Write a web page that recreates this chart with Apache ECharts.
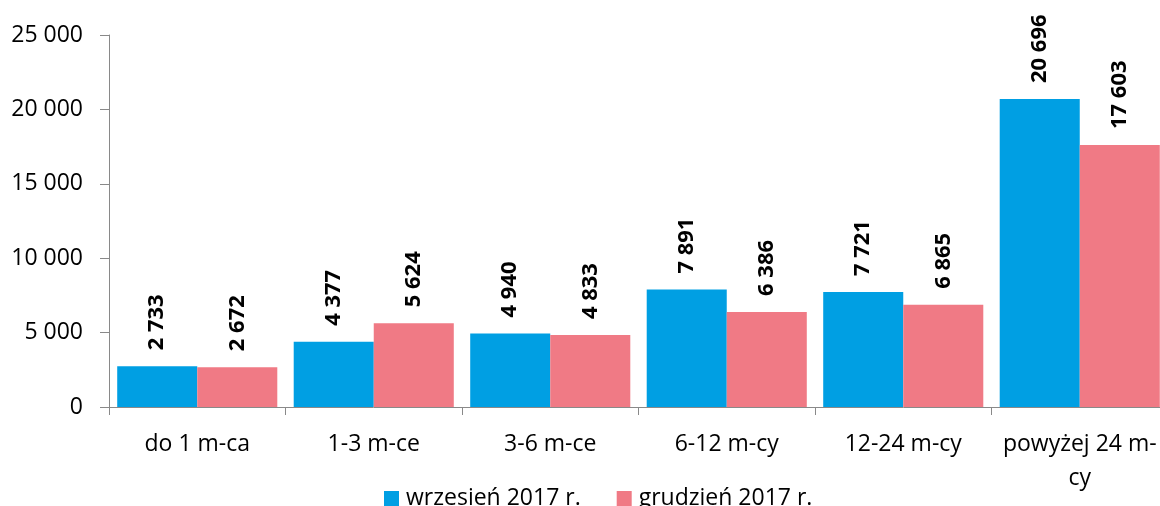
<!DOCTYPE html>
<html><head><meta charset="utf-8">
<script src="https://cdn.jsdelivr.net/npm/echarts@6/dist/echarts.min.js"></script>
<style>html,body{margin:0;padding:0;background:#fff;overflow:hidden;width:1160px;height:506px}#c{width:1170px;height:506px}</style>
</head><body><div id="c"></div>
<script>
const categories = ['do 1 m-ca', '1-3 m-ce', '3-6 m-ce', '6-12 m-cy', '12-24 m-cy', 'powyżej 24 m-\ncy'];
const seriesNames = ['wrzesień 2017 r.', 'grudzień 2017 r.'];
const wrzesien = [2733, 4377, 4940, 7891, 7721, 20696];
const grudzien = [2672, 5624, 4833, 6386, 6865, 17603];
const yTicks = [0, 5000, 10000, 15000, 20000, 25000];

const fmt = v => String(v).replace(/\B(?=(\d{3})+(?!\d))/g, ' ');
const FONT = 'Open Sans';
const FS = 23;
const axisColor = '#898989';
const labelCfg = {
  show: true, position: 'top', rotate: 90, align: 'left', verticalAlign: 'middle',
  distance: 16, fontFamily: FONT, fontWeight: 'bold', fontSize: 22, color: '#000',
  formatter: p => fmt(p.value)
};
const chart = echarts.init(document.getElementById('c'), null, {renderer: 'canvas'});
chart.setOption({
  animation: false,
  grid: {left: 109, top: 35, bottom: 99, right: 2, containLabel: false},
  legend: {
    data: seriesNames, left: 379, top: 482, itemWidth: 15, itemHeight: 15, itemGap: 36,
    icon: 'rect',
    textStyle: {fontFamily: FONT, fontSize: FS, color: '#000', padding: [0, 0, 0, 2]}
  },
  xAxis: {
    type: 'category', data: categories,
    axisLine: {lineStyle: {color: axisColor, width: 1}},
    axisTick: {show: true, length: 8, lineStyle: {color: axisColor}},
    axisLabel: {fontFamily: FONT, fontSize: FS, color: '#000', margin: 20, lineHeight: 34, interval: 0}
  },
  yAxis: {
    type: 'value', min: yTicks[0], max: yTicks[yTicks.length - 1], interval: 5000,
    splitLine: {show: false},
    axisLine: {show: true, lineStyle: {color: axisColor, width: 1}},
    axisTick: {show: true, length: 9, lineStyle: {color: axisColor}},
    axisLabel: {fontFamily: FONT, fontSize: FS, color: '#000', margin: 26, formatter: v => fmt(v)}
  },
  series: [
    {name: seriesNames[0], type: 'bar', data: wrzesien, barGap: '0%', barCategoryGap: '9.3%',
     itemStyle: {color: '#009FE3'}, label: labelCfg},
    {name: seriesNames[1], type: 'bar', data: grudzien, barGap: '0%', barCategoryGap: '9.3%',
     itemStyle: {color: '#F07A85'}, label: labelCfg}
  ]
});
</script></body></html>
